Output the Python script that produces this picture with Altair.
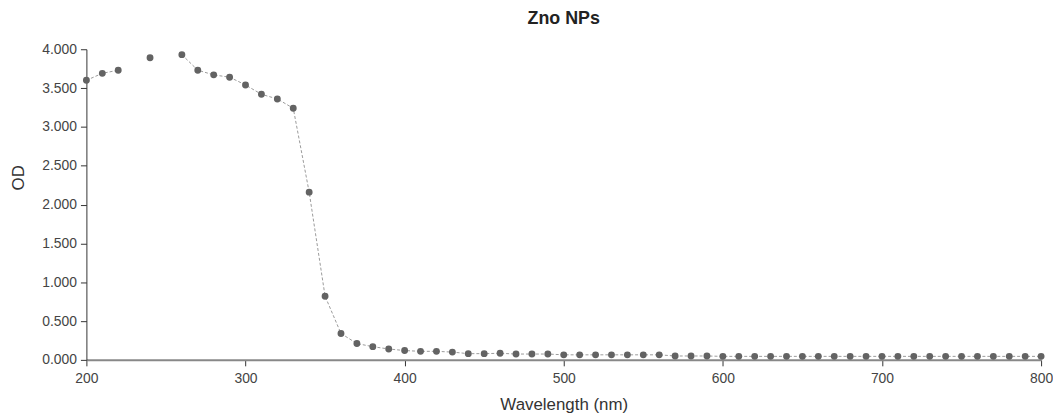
import altair as alt
import pandas as pd

wavelength = [200, 210, 220, 240, 260, 270, 280, 290, 300, 310, 320, 330, 340, 350,
              360, 370, 380, 390, 400, 410, 420, 430, 440, 450, 460, 470, 480, 490,
              500, 510, 520, 530, 540, 550, 560, 570, 580, 590, 600, 610, 620, 630,
              640, 650, 660, 670, 680, 690, 700, 710, 720, 730, 740, 750, 760, 770,
              780, 790, 800]
od = [3.60, 3.69, 3.73, 3.89, 3.93, 3.73, 3.67, 3.64, 3.54, 3.42, 3.36, 3.24, 2.16, 0.82,
      0.34, 0.21, 0.17, 0.14, 0.12, 0.11, 0.11, 0.10, 0.08, 0.08, 0.085, 0.075, 0.075, 0.075,
      0.065, 0.065, 0.065, 0.065, 0.065, 0.065, 0.065, 0.05, 0.05, 0.05, 0.045, 0.045, 0.045, 0.045,
      0.045, 0.045, 0.045, 0.045, 0.045, 0.045, 0.045, 0.045, 0.045, 0.045, 0.045, 0.045, 0.045, 0.045,
      0.045, 0.045, 0.045]
# line segments (gaps at 230 and 250 nm where no reading exists)
segment = [1, 1, 1, 2] + [3] * (len(wavelength) - 4)

x_ticks = [200, 300, 400, 500, 600, 700, 800]
y_ticks = [0, 0.5, 1, 1.5, 2, 2.5, 3, 3.5, 4]

df = pd.DataFrame({"wl": wavelength, "od": od, "seg": segment})

x = alt.X("wl:Q", scale=alt.Scale(domain=[200, 800], nice=False, zero=False),
          axis=alt.Axis(title="Wavelength (nm)", values=x_ticks, format="d",
                        grid=False, domainColor="#888888", domainWidth=2,
                        tickColor="#333333", tickSize=6, labelFontSize=14,
                        labelColor="#444444", labelPadding=6, labelFlush=False,
                        titleFontSize=17, titleFontWeight="normal", titleColor="#333333",
                        titlePadding=11))
y = alt.Y("od:Q", scale=alt.Scale(domain=[0, 4], nice=False),
          axis=alt.Axis(title="OD", values=y_ticks, format=".3f", grid=False,
                        domainColor="#333333", tickColor="#333333", tickSize=6,
                        labelFontSize=14, labelColor="#444444", labelPadding=4,
                        labelFlush=False,
                        titleFontSize=17, titleFontWeight="normal", titleColor="#333333",
                        titleX=-68, titleY=129, titleAlign="center", titleBaseline="middle",
                        titleAngle=270))

line = alt.Chart(df).mark_line(color="#9a9a9a", strokeWidth=1, strokeDash=[3, 2]).encode(
    x=x, y=y, detail="seg:N")
pts = alt.Chart(df).mark_circle(color="#636363", opacity=1, size=48).encode(x=x, y=y)

chart = (line + pts).properties(
    width=962, height=313,
    autosize=alt.AutoSizeParams(type="none"),
    padding={"left": 79, "top": 40, "right": 12, "bottom": 55},
    title=alt.TitleParams("Zno NPs", fontSize=18, fontWeight="bold", color="#222222",
                          font="Liberation Sans", anchor="middle", offset=14),
).configure(font="Liberation Sans").configure_view(stroke=None)

chart.save("out.html", embed_options={"renderer": "svg", "actions": False})
